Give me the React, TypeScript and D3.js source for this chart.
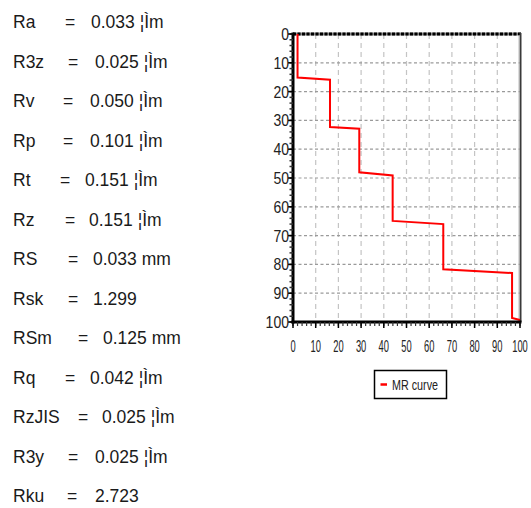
import React from "react";
import * as d3 from "d3";

// ---- data ----
const paramLabels = ["Ra", "R3z", "Rv", "Rp", "Rt", "Rz", "RS", "Rsk", "RSm", "Rq", "RzJIS", "R3y", "Rku"];
const paramValues = ["0.033", "0.025", "0.050", "0.101", "0.151", "0.151", "0.033", "1.299", "0.125", "0.042", "0.025", "0.025", "2.723"];
const paramUnits = ["¦Ìm", "¦Ìm", "¦Ìm", "¦Ìm", "¦Ìm", "¦Ìm", "mm", "", "mm", "¦Ìm", "¦Ìm", "¦Ìm", ""];

const mrX = [2, 2, 16.3, 16.3, 29.2, 29.2, 43.9, 43.9, 66.2, 66.2, 96.5, 96.5, 100];
const mrY = [0, 15.1, 15.9, 32.3, 32.9, 48.0, 49.1, 64.9, 66.0, 81.7, 83.0, 98.6, 99.3];

const tickValues = [0, 10, 20, 30, 40, 50, 60, 70, 80, 90, 100];
const seriesName = "MR curve";

// ---- layout (text columns of the parameter list) ----
const eqX = [65, 68, 63, 63, 60, 65, 68, 68, 78, 65, 78, 68, 67];
const valX = [91, 95, 90, 90, 85, 89, 93, 93, 103, 90, 102, 95, 95];

export default function App() {
  const W = 531, H = 508;
  const x = d3.scaleLinear().domain([0, 100]).range([293, 520]);
  const y = d3.scaleLinear().domain([0, 100]).range([34, 322]);
  const line = d3.line<number>().x((d, i) => x(mrX[i])).y((d, i) => y(mrY[i]));
  const minor = d3.range(0, 101, 2);
  const font = "'Liberation Sans', Arial, sans-serif";

  return (
    <svg width={W} height={H} style={{ position: "absolute", left: 0, top: 0, background: "#fff" }}>
      {/* parameter list */}
      {paramLabels.map((l, i) => {
        const by = 28 + 39.5 * i;
        return (
          <g key={l} fontFamily={font} fontSize={17.5} fill="#1a1a1a">
            <text x={13} y={by}>{l}</text>
            <text x={eqX[i]} y={by}>=</text>
            <text x={valX[i]} y={by} style={{ whiteSpace: "pre" }}>
              {paramValues[i] + (paramUnits[i] ? " " + paramUnits[i] : "")}
            </text>
          </g>
        );
      })}

      {/* grid */}
      {tickValues.slice(1, -1).map((t) => (
        <line key={"gv" + t} x1={x(t)} x2={x(t)} y1={y(0)} y2={y(100)} stroke="#c4c4c4" strokeWidth={1.2} strokeDasharray="5,4" />
      ))}
      {tickValues.slice(1, -1).map((t) => (
        <line key={"gh" + t} x1={x(0)} x2={x(100)} y1={y(t)} y2={y(t)} stroke="#9a9a9a" strokeWidth={1.2} strokeDasharray="3,2.5" />
      ))}

      {/* frame */}
      <line x1={x(0)} x2={x(100) + 1} y1={y(0)} y2={y(0)} stroke="#888" strokeWidth={3} />
      <line x1={x(0)} x2={x(100) + 1} y1={y(0)} y2={y(0)} stroke="#000" strokeWidth={3} strokeDasharray="3,1.5" />
      <line x1={x(100) + 0.5} x2={x(100) + 0.5} y1={y(0) - 1} y2={y(100)} stroke="#3a3a3a" strokeWidth={2} />
      <line x1={x(100) - 1} x2={x(100) - 1} y1={y(0) + 1} y2={y(100)} stroke="#bbb" strokeWidth={1} />

      {/* curve */}
      <path d={line(mrX) || ""} fill="none" stroke="#ff0000" strokeWidth={2} />

      {/* y axis */}
      <line x1={x(0)} x2={x(0)} y1={y(0) - 1.5} y2={y(100) + 1.5} stroke="#000" strokeWidth={3} />
      {minor.map((t) => (
        <line key={"ym" + t} x1={x(0) - 3.5} x2={x(0)} y1={y(t)} y2={y(t)} stroke="#333" strokeWidth={1.5} />
      ))}
      {tickValues.map((t) => (
        <g key={"yt" + t}>
          <line x1={x(0) - 5} x2={x(0)} y1={y(t)} y2={y(t)} stroke="#000" strokeWidth={1.5} />
          <text x={289} y={y(t) + 6} textAnchor="end" fontFamily={font} fontSize={16.5}
            textLength={String(t).length * 7.8} lengthAdjust="spacingAndGlyphs" fill="#222">{t}</text>
        </g>
      ))}

      {/* x axis */}
      <line x1={x(0) - 1.5} x2={x(100) + 1.5} y1={y(100)} y2={y(100)} stroke="#000" strokeWidth={3} />
      {minor.map((t) => (
        <line key={"xm" + t} x1={x(t)} x2={x(t)} y1={y(100)} y2={y(100) + 4} stroke="#333" strokeWidth={1.2} />
      ))}
      {tickValues.map((t) => (
        <g key={"xt" + t}>
          <line x1={x(t)} x2={x(t)} y1={y(100)} y2={y(100) + 6} stroke="#000" strokeWidth={1.5} />
          <text x={x(t)} y={352} textAnchor="middle" fontFamily={font} fontSize={16.5}
            textLength={String(t).length * 5.2} lengthAdjust="spacingAndGlyphs" fill="#222">{t}</text>
        </g>
      ))}

      {/* legend */}
      <rect x={374.5} y={370.5} width={72} height={28} fill="#fff" stroke="#000" strokeWidth={1.5} />
      <line x1={380.5} x2={387} y1={384.5} y2={384.5} stroke="#ff0000" strokeWidth={2.5} />
      <text x={392} y={390} fontFamily={font} fontSize={14} textLength={46} lengthAdjust="spacingAndGlyphs" fill="#222">{seriesName}</text>
    </svg>
  );
}
